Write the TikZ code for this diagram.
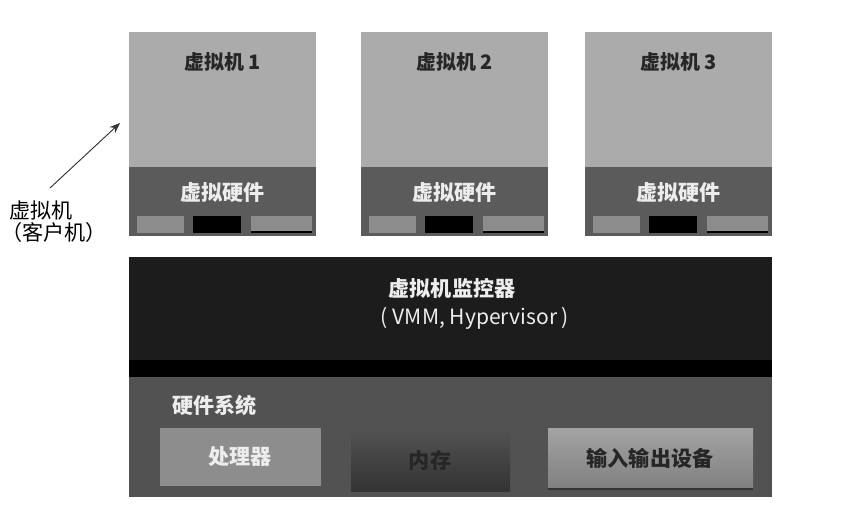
\documentclass[tikz,border=0pt]{standalone}
\usepackage{fontspec}
\setmainfont{Noto Sans CJK SC}
\usepackage{tikz}
\usetikzlibrary{positioning, arrows.meta, calc}
\definecolor{vmgray}{HTML}{ABABAB}
\definecolor{hwgray}{HTML}{5B5B5B}
\definecolor{bargray}{HTML}{8C8C8C}
\definecolor{vmmblack}{HTML}{1C1C1C}
\definecolor{sysgray}{HTML}{525252}
\definecolor{cpugray}{HTML}{8D8D8D}
\definecolor{lighttext}{HTML}{EDEDED}
\newcommand{\pxfont}{\fontsize{18}{21}\selectfont}
\newcommand{\titlefont}{\fontsize{17}{20}\selectfont}
\tikzset{
	vmnode/.pic={
			\fill[vmgray] (0,0) rectangle (187,135);
			\fill[hwgray] (0,135) rectangle (187,204);
			\node[vmtitle] (-title) at (93.5,30) {#1};
			\node[hwtext] (-hw) at (93.5,161) {虚拟硬件};
			\fill[bargray] (8,184) rectangle (55,201);
			\fill[black] (64,184) rectangle (112,201);
			\fill[bargray] (122,184) rectangle (183,199);
			\draw[line width=1.5pt] (122,200) -- (183,200);
		}
}
\tikzset{
	vmtitle/.style={font=\titlefont\bfseries\color{black!85}}
}
\tikzset{
	hwtext/.style={font=\pxfont\bfseries\color{lighttext}}
}
\tikzset{
	darktext/.style={font=\pxfont\bfseries\color{black!85}}
}
\tikzset{
	guestarrow/.style={line width=0.8pt, black!80, -{Stealth[length=9pt, width=7pt]}}
}

\begin{document}
\begin{tikzpicture}[x=0.03cm, y=-0.03cm]

	\useasboundingbox (0,0) rectangle (857,508);

	\begin{scope}
		\coordinate (mA) at (129,32);
		\coordinate (mB) at (361,32);
		\coordinate (mC) at (585,32);

		\pic (vmA) at (mA) {vmnode={虚拟机 1}};
		\pic (vmB) at (mB) {vmnode={虚拟机 2}};
		\pic (vmC) at (mC) {vmnode={虚拟机 3}};
	\end{scope}

	\begin{scope}
		\fill[vmmblack] (129,257) rectangle (772,360);
		\fill[black] (129,360) rectangle (772,377);
		\fill[sysgray] (129,377) rectangle (772,497);

		\node[hwtext] (vmm) at (452,288) {虚拟机监控器};
		\node[font=\fontsize{18}{21}\selectfont\color{lighttext}] (vmmsub) at (475,318) {( VMM, Hypervisor )};
		\node[hwtext, anchor=west] (hwsys) at (168,405) {硬件系统};
	\end{scope}

	\begin{scope}
		\fill[cpugray] (160,428) rectangle (321,486);
		\shade[top color=black!68, bottom color=black!80] (351,430) rectangle (510,491);
		\shade[top color=black!36, bottom color=black!50] (548,428) rectangle (753,489);
		\draw[line width=1pt, black!80] (548,489) -- (753,489);

		\node[hwtext] (cpu) at (240,457) {处理器};
		\node[darktext] (mem) at (430,460) {内存};
		\node[darktext] (io) at (650,458) {输入输出设备};
	\end{scope}

	\node[darktext, font=\pxfont] (guestlbl) at (41,210) {虚拟机};
	\node[darktext, font=\pxfont, anchor=west, inner sep=0pt] (guestsub) at (1,232) {（客户机）};

	\coordinate (arrowtail) at (50,188);
	\coordinate (vmtip) at (120,123);
	\draw[guestarrow] (arrowtail) -- (vmtip);

\end{tikzpicture}
\end{document}
